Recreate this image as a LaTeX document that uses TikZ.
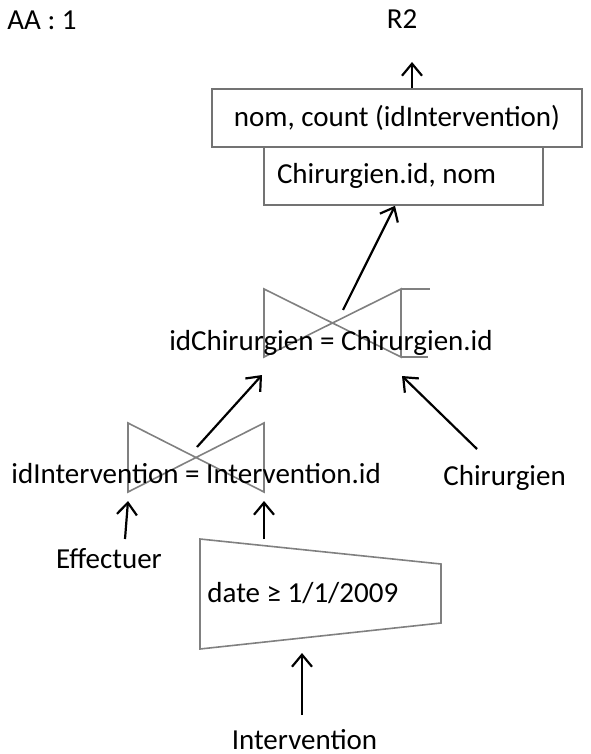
\documentclass[tikz,border=0pt]{standalone}
\usepackage{fontspec}
\setmainfont{Carlito}
\usetikzlibrary{positioning,arrows.meta}

\tikzset{
  fleche/.style={-{Straight Barb[length=6pt,width=10pt]}, line width=1.1pt},
  trait/.style={draw=black!50, line width=0.8pt},
  txt/.style={font=\fontsize{14.5}{17}\selectfont, inner sep=0pt, anchor=base},
  boite/.style={draw=black!55, line width=0.8pt, minimum height=29pt, inner sep=0pt,
    font=\fontsize{14.5}{17}\selectfont},
}

\begin{document}
\begin{tikzpicture}[x=0.5pt, y=-0.5pt]
    \useasboundingbox (0,0) rectangle (590,754);

    \node[txt, anchor=base west] (AA) at (7,30) {AA : 1};
    \node[txt] (R2) at (402,29) {R2};

    % projection + groupement
    \node[boite, minimum width=185pt] (proj) at (397,118) {nom, count (idIntervention)};
    \node[boite, text width=126.5pt, inner xsep=6.5pt, align=flush left] (group) at (403.5,176) {Chirurgien.id, nom};
    \coordinate (sortie) at (412,62);
    \draw[fleche] (proj.north -| sortie) -- (sortie);

    % jointure avec Chirurgien
    \draw[trait] (264,289) -- (401,357) -- (401,289) -- (264,357) -- cycle;
    \draw[trait] (401,289) -- (430,289);
    \draw[trait] (401,357) -- (428,357);
    \node[txt] (joinChir) at (331,350) {idChirurgien = Chirurgien.id};
    \coordinate (joinChirOut) at (343,310);
    \coordinate (joinChirG) at (262,375);
    \coordinate (joinChirD) at (402,376);
    \draw[fleche] (joinChirOut) -- (group.south -| 395,0);

    % jointure Effectuer / Intervention
    \draw[trait] (128,423) -- (264,492) -- (264,423) -- (128,492) -- cycle;
    \node[txt, anchor=base west] (joinInt) at (11,483) {idIntervention = Intervention.id};
    \coordinate (joinIntOut) at (197,447);
    \coordinate (joinIntG) at (128,501);
    \coordinate (joinIntD) at (264,501);
    \draw[fleche] (joinIntOut) -- (joinChirG);

    \node[txt, anchor=base west] (chir) at (443,485) {Chirurgien};
    \coordinate (chirOut) at (477,449);
    \draw[fleche] (chirOut) -- (joinChirD);

    \node[txt] (eff) at (109,568) {Effectuer};
    \coordinate (effOut) at (125,539);
    \draw[fleche] (effOut) -- (joinIntG);

    % selection
    \draw[trait] (200,539) -- (441,564) -- (441,623) -- (200,649) -- cycle;
    \node[txt, anchor=base west] (sel) at (207,602) {date ≥ 1/1/2009};
    \coordinate (selOut) at (264,539);
    \draw[fleche] (selOut) -- (joinIntD);

    \node[txt] (interv) at (304.5,749) {Intervention};
    \coordinate (selIn) at (302,653);
    \coordinate (intervOut) at (302,715);
    \draw[fleche] (intervOut) -- (selIn);
\end{tikzpicture}
\end{document}
